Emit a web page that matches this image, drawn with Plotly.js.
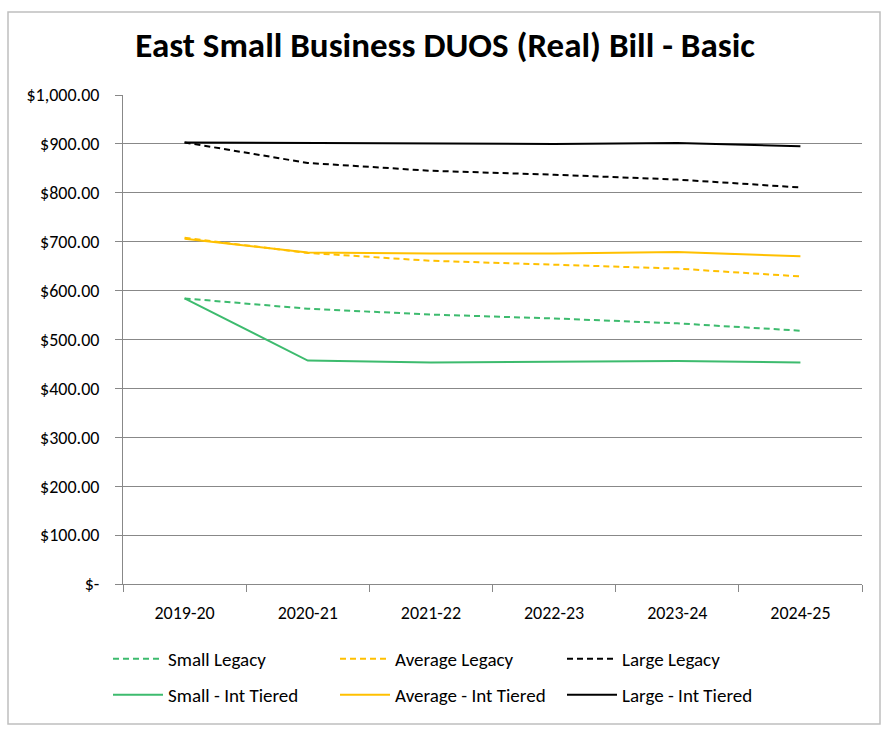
<!DOCTYPE html>
<html>
<head>
<meta charset="utf-8">
<script src="https://cdn.plot.ly/plotly-3.0.1.min.js"></script>
<style>html,body{margin:0;padding:0;background:#fff;}#chart{width:885px;height:729px;}</style>
</head>
<body>
<div id="chart"></div>
<script>
const categories = ["2019-20", "2020-21", "2021-22", "2022-23", "2023-24", "2024-25"];
const smallLegacy = [584, 563, 551, 543, 533, 518];
const averageLegacy = [708, 677, 661, 653, 645, 629];
const largeLegacy = [903, 861, 845, 837, 827, 811];
const smallTiered = [584, 457, 453, 455, 456, 453];
const averageTiered = [706, 678, 676, 676, 679, 670];
const largeTiered = [903, 902, 900, 900, 902, 895];
const yTickVals = [0, 100, 200, 300, 400, 500, 600, 700, 800, 900, 1000];
const yTickText = ["$-", "$100.00", "$200.00", "$300.00", "$400.00", "$500.00", "$600.00", "$700.00", "$800.00", "$900.00", "$1,000.00"];

const GREEN = "#3DBB6E", YELLOW = "#FFC000", BLACK = "#000000";
const FONT = "Carlito, 'Liberation Sans Narrow', 'Liberation Sans', Arial, sans-serif";
const DASH = "6px,4px";

function tr(name, y, color, dash, legend) {
  return {x: categories, y: y, name: name, type: "scatter", mode: "lines",
          line: {color: color, width: 2, dash: dash}, legend: legend};
}
const data = [
  tr("Small Legacy", smallLegacy, GREEN, DASH, "legend"),
  tr("Average Legacy", averageLegacy, YELLOW, DASH, "legend"),
  tr("Large Legacy", largeLegacy, BLACK, DASH, "legend"),
  tr("Small - Int Tiered", smallTiered, GREEN, "solid", "legend2"),
  tr("Average - Int Tiered", averageTiered, YELLOW, "solid", "legend2"),
  tr("Large - Int Tiered", largeTiered, BLACK, "solid", "legend2")
];

const L = 123, R = 862, T = 95, B = 584;
const pw = R - L, ph = B - T;
function px(x) { return (x - L) / pw; }
function py(y) { return (B - y) / ph; }

const legendCommon = {orientation: "h", xanchor: "left", yanchor: "middle",
  entrywidth: 162, entrywidthmode: "pixels", bgcolor: "rgba(0,0,0,0)",
  font: {family: FONT, size: 19, color: "#000"}, traceorder: "normal", itemwidth: 50};

const layout = {
  width: 885, height: 729,
  margin: {l: L, r: 885 - R, t: T, b: 729 - B},
  paper_bgcolor: "#fff", plot_bgcolor: "#fff",
  font: {family: FONT, size: 18, color: "#000"},
  title: {text: "<b>East Small Business DUOS (Real) Bill - Basic</b>",
          font: {family: FONT, size: 35, color: "#000"},
          x: 0.503, xanchor: "center", y: 1 - 45 / 729, yanchor: "middle"},
  xaxis: {type: "category", range: [-0.5, 5.5], showgrid: false,
          showline: true, linecolor: "#888", linewidth: 1,
          ticks: "outside", tickson: "boundaries", ticklen: 7, tickcolor: "#888",
          tickfont: {family: FONT, size: 18, color: "#000"}, ticklabelstandoff: 12},
  yaxis: {range: [0, 1000], tickvals: yTickVals, ticktext: yTickText,
          showgrid: true, gridcolor: "#888", gridwidth: 1,
          showline: true, linecolor: "#888", linewidth: 1,
          ticks: "outside", ticklen: 7, tickcolor: "#888", zeroline: false,
          tickfont: {family: FONT, size: 18, color: "#000"}, ticklabelstandoff: 12},
  legend: Object.assign({}, legendCommon, {x: px(108), y: py(659)}),
  legend2: Object.assign({}, legendCommon, {x: px(108), y: py(695)}),
  shapes: [{type: "rect", xref: "paper", yref: "paper",
            x0: px(8), x1: px(880), y0: py(724), y1: py(12),
            line: {color: "#BFBFBF", width: 1.5}, fillcolor: "rgba(0,0,0,0)", layer: "below"}],
  showlegend: true
};

Plotly.newPlot("chart", data, layout, {displayModeBar: false, staticPlot: true});
</script>
</body>
</html>
